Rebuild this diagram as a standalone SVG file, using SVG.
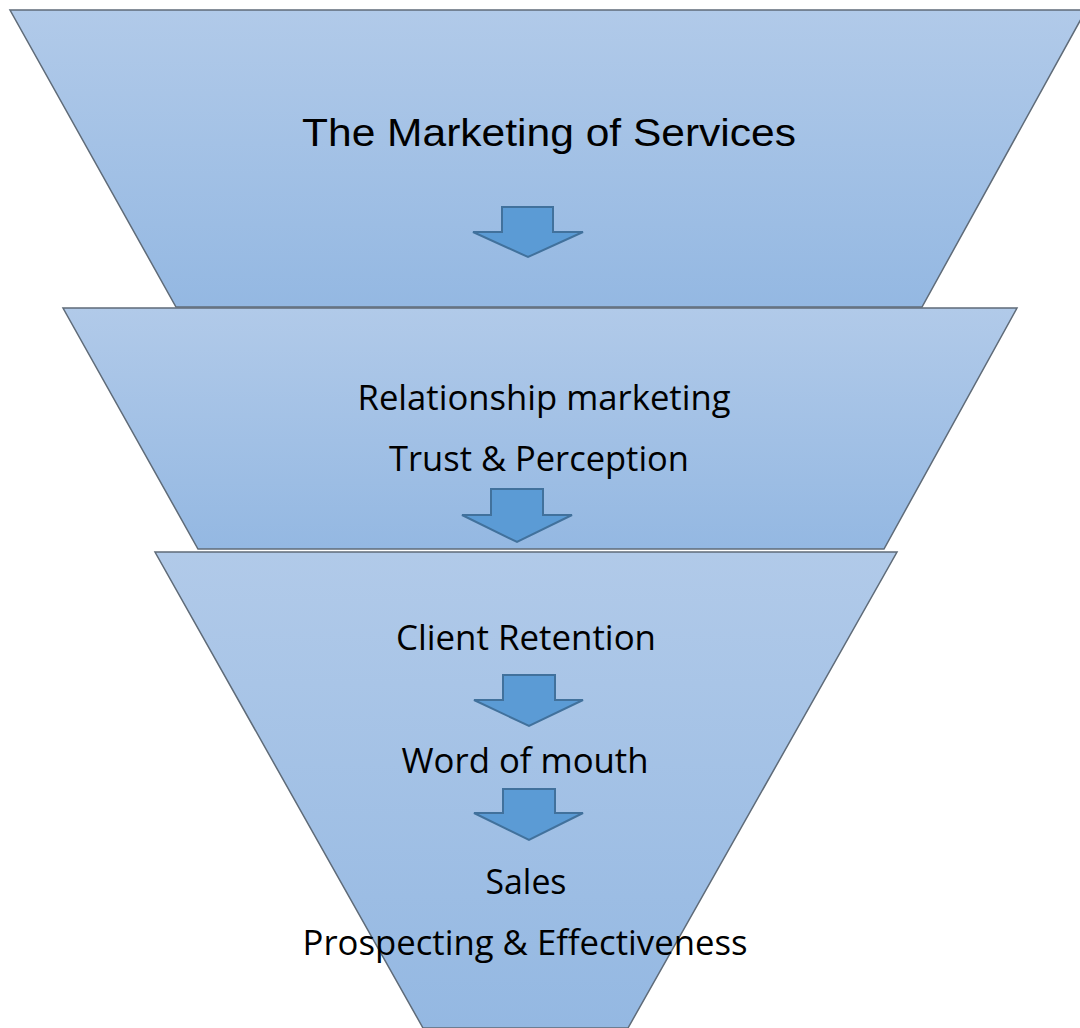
<svg xmlns="http://www.w3.org/2000/svg" width="1080" height="1028" viewBox="0 0 1080 1028">
<defs>
<linearGradient id="g1" x1="0" y1="0" x2="0" y2="1">
<stop offset="0" stop-color="#b1cae9"/>
<stop offset="1" stop-color="#94b8e2"/>
</linearGradient>
<style>
.tier{fill:url(#g1);stroke:#5f6b78;stroke-width:1.5}
.arr{fill:#5b9bd5;stroke:#41719c;stroke-width:2}
.t{font-family:"Open Sans","Noto Sans",sans-serif;font-size:34px;fill:#000;text-anchor:middle}
.h{font-family:"Liberation Sans",Arial,sans-serif;font-size:38px;fill:#000;text-anchor:middle}
</style>
</defs>
<g id="tier1">
<polygon class="tier" points="10,10 1086,10 922,307 176,307"/>
<text class="h" x="549" y="146" textLength="494" lengthAdjust="spacingAndGlyphs">The Marketing of Services</text>
</g>
<g id="tier2">
<polygon class="tier" points="63,308 1017,308 884,549 198,549"/>
<text class="t" x="544" y="410" textLength="373" lengthAdjust="spacingAndGlyphs">Relationship marketing</text>
<text class="t" x="539" y="471" textLength="300" lengthAdjust="spacingAndGlyphs">Trust &amp; Perception</text>
</g>
<g id="tier3">
<polygon class="tier" points="155,552 897,552 628,1028 423,1028"/>
<text class="t" x="526" y="650" textLength="260" lengthAdjust="spacingAndGlyphs">Client Retention</text>
<text class="t" x="525" y="773" textLength="247" lengthAdjust="spacingAndGlyphs">Word of mouth</text>
<text class="t" x="526" y="894" textLength="81" lengthAdjust="spacingAndGlyphs">Sales</text>
<text class="t" x="525" y="955" textLength="445" lengthAdjust="spacingAndGlyphs">Prospecting &amp; Effectiveness</text>
</g>
<g id="connectors">
<polygon class="arr" points="502,207 553,207 553,232 583,232 528,257 473,232 502,232"/>
<polygon class="arr" points="491,489 543,489 543,515 572,515 517,542 462,515 491,515"/>
<polygon class="arr" points="503,675 555,675 555,700 583,700 529,726 474,700 503,700"/>
<polygon class="arr" points="503,789 555,789 555,813 583,813 529,840 474,813 503,813"/>
</g>
</svg>
